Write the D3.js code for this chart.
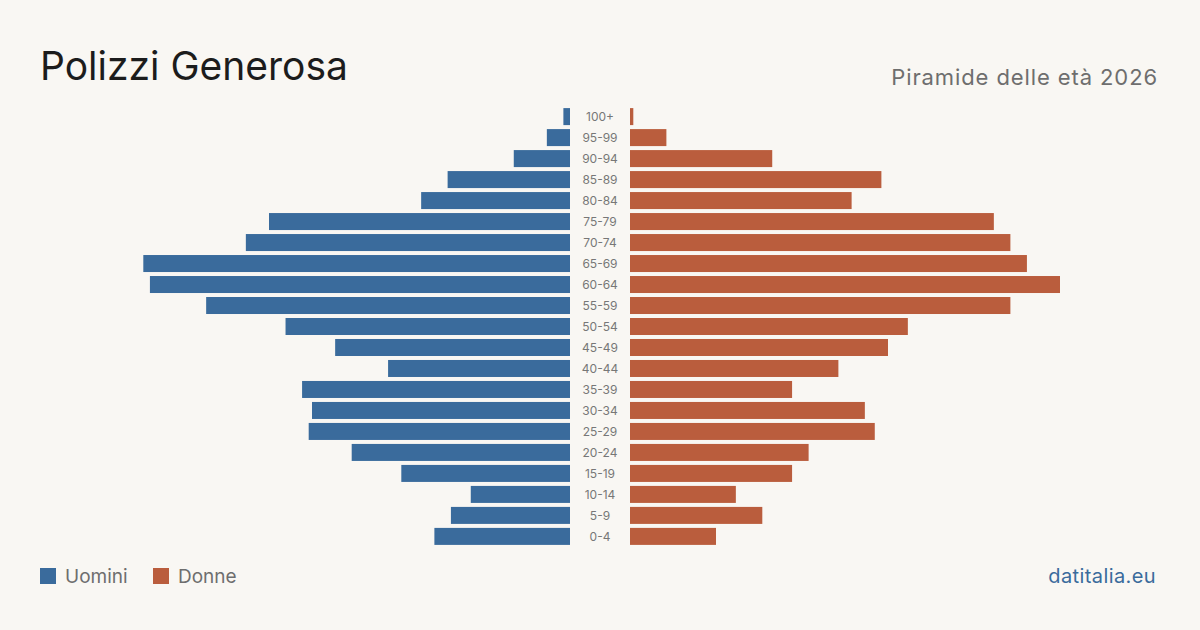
<!DOCTYPE html>
<html>
<head>
<meta charset="utf-8">
<script src="https://cdn.jsdelivr.net/npm/d3@7"></script>
<style>
  body { margin: 0; background: #f9f7f3; }
  svg { display: block; font-family: Inter, "Noto Sans", sans-serif; }
</style>
</head>
<body>
<svg id="chart" width="1200" height="630"></svg>
<script>
// age classes, top to bottom
const ageGroups = ['100+', '95-99', '90-94', '85-89', '80-84', '75-79', '70-74', '65-69', '60-64',
  '55-59', '50-54', '45-49', '40-44', '35-39', '30-34', '25-29', '20-24', '15-19', '10-14', '5-9', '0-4'];

// residents per class
const uomini = [2, 7, 17, 37, 45, 91, 98, 129, 127, 110, 86, 71, 55, 81, 78, 79, 66, 51, 30, 36, 41];
const donne  = [1, 11, 43, 76, 67, 110, 115, 120, 130, 115, 84, 78, 63, 49, 71, 74, 54, 49, 32, 40, 26];

const legendLabels = ['Uomini', 'Donne'];
const colors = { men: '#3a6b9c', women: '#ba5d3d' };

const W = 1200, H = 630;
const center = 600, gap = 30;
const svg = d3.select('#chart');

svg.append('rect').attr('width', W).attr('height', H).attr('fill', '#f9f7f3');

// title + subtitle
svg.append('text')
  .attr('x', 40).attr('y', 80)
  .attr('font-size', 39).attr('fill', '#1c1c1c')
  .text('Polizzi Generosa');

svg.append('text')
  .attr('x', 1158).attr('y', 85)
  .attr('text-anchor', 'end')
  .attr('font-size', 22).attr('fill', '#6e6e6e')
  .attr('letter-spacing', 0.9)
  .text('Piramide delle età 2026');

// scales
const y = d3.scaleBand()
  .domain(ageGroups)
  .range([106, 547])
  .paddingInner(0.19)
  .paddingOuter(0.1);

const x = d3.scaleLinear()
  .domain([0, 130])
  .range([0, 430]);

const rows = ageGroups.map((g, i) => ({ g, m: uomini[i], f: donne[i] }));

// men on the left
svg.append('g').selectAll('rect')
  .data(rows).join('rect')
  .attr('x', d => center - gap - x(d.m))
  .attr('y', d => y(d.g))
  .attr('width', d => x(d.m))
  .attr('height', y.bandwidth())
  .attr('fill', colors.men);

// women on the right
svg.append('g').selectAll('rect')
  .data(rows).join('rect')
  .attr('x', center + gap)
  .attr('y', d => y(d.g))
  .attr('width', d => x(d.f))
  .attr('height', y.bandwidth())
  .attr('fill', colors.women);

// age labels in the middle
svg.append('g').selectAll('text')
  .data(ageGroups).join('text')
  .attr('x', center)
  .attr('y', d => y(d) + y.bandwidth() / 2)
  .attr('dy', '0.36em')
  .attr('text-anchor', 'middle')
  .attr('font-size', 12)
  .attr('fill', '#777')
  .text(d => d);

// legend
const legend = svg.append('g').attr('transform', 'translate(40,568)');
const legendX = [0, 113];
legendLabels.forEach((lab, i) => {
  legend.append('rect')
    .attr('x', legendX[i]).attr('y', 0)
    .attr('width', 16).attr('height', 16)
    .attr('fill', i === 0 ? colors.men : colors.women);
  legend.append('text')
    .attr('x', legendX[i] + 25).attr('y', 15)
    .attr('font-size', 19).attr('fill', '#6e6e6e')
    .text(lab);
});

svg.append('text')
  .attr('x', 1156).attr('y', 583)
  .attr('text-anchor', 'end')
  .attr('font-size', 20).attr('fill', '#3a6b9c')
  .attr('letter-spacing', 0.4)
  .text('datitalia.eu');
</script>
</body>
</html>
